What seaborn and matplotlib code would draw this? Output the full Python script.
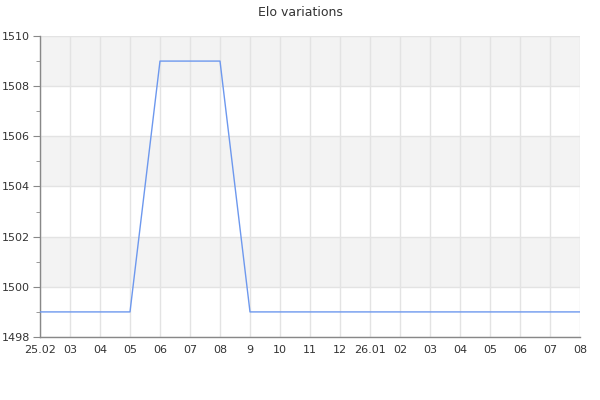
import numpy as np
import pandas as pd
import seaborn as sns
import matplotlib
matplotlib.use("Agg")
import matplotlib.pyplot as plt

# dados
labels = ["25.02", "03", "04", "05", "06", "07", "08", "9", "10", "11",
          "12", "26.01", "02", "03", "04", "05", "06", "07", "08"]
elo = [1499, 1499, 1499, 1499, 1509, 1509, 1509, 1499, 1499, 1499,
       1499, 1499, 1499, 1499, 1499, 1499, 1499, 1499, 1499]

df = pd.DataFrame({"pos": np.arange(len(labels)), "elo": elo})

sns.set_style("white")
plt.rcParams["font.family"] = ["DejaVu Sans"]

fig = plt.figure(figsize=(6, 4), dpi=100)
ax = fig.add_axes([40 / 600, 63 / 400, 540 / 600, 301 / 400])

# faixas alternadas
for lo in range(1500, 1510, 4):
    ax.axhspan(lo, lo + 2, color="#f3f3f3", zorder=0, lw=0)

sns.lineplot(data=df, x="pos", y="elo", ax=ax, color="#6d98ee", lw=1, zorder=3)

ax.set_xlim(0, len(labels) - 1)
ax.set_ylim(1498, 1510)
ax.set_xticks(df["pos"])
ax.set_xticklabels(labels)
ax.set_yticks(range(1498, 1511, 2))
ax.set_yticks(range(1499, 1510, 2), minor=True)

ax.grid(True, which="major", color="#e3e3e3", lw=1, zorder=1)
ax.set_axisbelow(True)

for s in ["top", "right"]:
    ax.spines[s].set_visible(False)
for s in ["left", "bottom"]:
    ax.spines[s].set_color("#888888")
    ax.spines[s].set_linewidth(1)

ax.tick_params(axis="y", which="major", length=5, color="#888888",
               labelsize=8, labelcolor="#333333", pad=2, left=True)
ax.tick_params(axis="y", which="minor", length=3, color="#888888", left=True)
ax.tick_params(axis="x", length=0, labelsize=8, labelcolor="#333333", pad=6)

ax.set_xlabel("")
ax.set_ylabel("")
fig.suptitle("Elo variations", y=0.985, fontsize=9, color="#333333")

fig.savefig("out.png", dpi=100)
